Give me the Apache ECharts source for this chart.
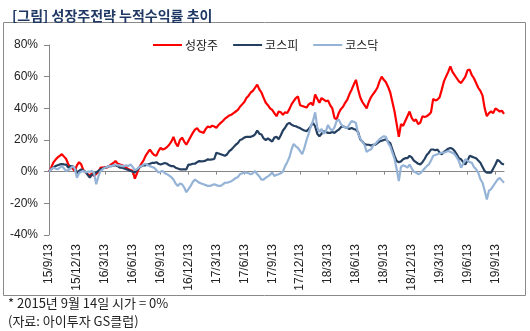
<!DOCTYPE html>
<html><head><meta charset="utf-8">
<script src="https://cdn.jsdelivr.net/npm/echarts@6/dist/echarts.min.js"></script>
<style>html,body{margin:0;padding:0;background:#fff}#c{width:530px;height:331px}</style>
</head><body><div id="c"></div>
<script>
// Weekly samples starting 2015-09-14 (index = weeks since start)
const seriesNames = ['성장주', '코스피', '코스닥'];
const xTickLabels = ['15/9/13','15/12/13','16/3/13','16/6/13','16/9/13','16/12/13','17/3/13','17/6/13','17/9/13','17/12/13','18/3/13','18/6/13','18/9/13','18/12/13','19/3/13','19/6/13','19/9/13'];
const weeksPerTick = 13;
const yTicks = [-40, -20, 0, 20, 40, 60, 80];

const growth = [0,2.5,5.7,7.5,9,10,11,9.5,8,4.6,3,2,0.4,4,6,4.6,1,-0.5,-1.5,-2.5,-1,-2.7,-1.5,0,2.5,2.5,3,2.5,3.5,4.6,5.5,6.7,5,4.6,4,3.5,2.5,1.5,1,0.4,-4.4,-1,2.5,5,7,10,12,14,12,10.5,10,13,15,14,14.5,15.5,17,19,22,18,16,20,21.5,19,17,19.5,22,24.5,26.6,27.5,25.6,25,24.5,27,28.5,28,29,28.5,27.7,29.5,30.8,32,33.5,34.5,35.5,36,37,38,39,41,42.5,44,46.5,48,50,51,53,55,52,50,46.6,43.5,42,40,39,37,35,38,37.5,36,37.5,37,39.5,42.5,44.5,46.5,47.5,42,41.5,41,40.5,42.5,43.5,42,48.7,46,43.5,46.5,45.5,44.5,45,42,40,34,33,37,39.5,41,43.5,45.5,49,51.8,55,58,52,47,44,42,40,44,47,49,50.8,53,57,60,58,56.5,53.5,50,44,38,30,22,30,29,32,35,38,34,32,33,30,31,35,34.5,35,36,37.5,46,45,45.5,47,51.8,57,60,63,66.5,63,61,59,57,56,58,60,64,64.5,61,59,56,53,51,48,40,35,37,38,37,40,39,38,38.5,36.5];

const kospi = [0,1.5,2.5,3.5,4,4.6,4.8,4.6,4.5,2.5,3.5,3.5,2,-0.6,0.5,1.5,0.5,0,-2,-3.8,-2,-1.6,-0.6,0.5,1.5,2,2.5,3,3.5,3.5,4,4,3.5,2.5,2.5,2,1.5,1,0.4,0,-0.6,1,2.5,3.5,4,4,4.5,5,5.5,5.5,6,5,4.5,5,5.5,5,4,3.5,3.5,2.5,2,1.5,1.5,1.5,1.5,4.5,4.5,5,5,6,6.7,6.5,6.7,7,7.8,7.5,7.8,8,12,11.5,11,10.5,10,11,13,14,15.5,17,18,20,20.5,21.5,22,22,22,22.5,23.5,26,24,23.5,21,20,21,20,19,21.5,22,20.5,23,26,27.7,30,30.8,29.7,29,28.7,28,27.5,26.6,26,25.6,27,28.7,30.8,28.7,24,22.4,24,25.6,25,24.5,24.5,25,24.5,25.6,26.5,28,28.7,28,27.6,27,27.6,27,26.5,25,20.5,19,17.5,17,17,16.5,17,17,18,19,19.5,20,20.5,19,18,14,10,6.7,6,6.5,7.8,8.5,8.5,10,9,7,6,5,4.6,6,8,10.5,12,14,14,13.5,14,12,11,12.5,13.5,14.5,15,14.5,13,11,8.5,7.8,6,4.5,7,10,9.5,9,8.5,7,5.6,3,0.4,-0.6,-0.5,-0.6,2,4.5,7.5,6.5,5,4.5];

const kosdaq = [0,1.5,2.5,2,1.5,2.5,3.5,2,0.4,1,2,3.5,2,-3.8,-1,0,0.5,-0.5,0,0,0.5,-1,-8,-3,0.4,1.5,2.5,3,3.5,3.5,4,4.6,4,4,3.5,3.5,4,3.5,4.6,3,1,1.5,3,3.5,4.5,5,4,3.5,3,2.5,1,-0.6,0,0.4,-1,-1.6,-2.5,-3.5,-5,-7.5,-9,-7.5,-8,-10,-13,-11,-9,-6.5,-5,-6,-7,-7.5,-8,-8.5,-9,-9,-8.5,-8,-8.5,-9,-9,-8,-7,-7,-6.5,-6,-5,-4,-3.5,-1.6,-1,-0.6,-0.6,-1,-1.6,-1,0.4,-1.5,-3,-5,-5,-3.8,-3,-2,-0.6,-2.7,-2,-1.6,-1,0,3.5,6,9,14,17.5,16,15,13,11,15,20,24,28.7,32,37.5,28,25,27,24,25.6,29.5,27,26,28,32,33,30,28.7,28,27.6,30,32,31.5,30.8,24,21,19,17,12.5,13.5,14,16.5,17.5,19,20.5,21.5,22.4,22,18,16,12,8,1.5,-6,3,4,3.5,2.5,4.5,2,0,-0.6,-1.6,-1,0.4,2,3.5,4.6,7,10,10.5,11,11.5,12,12,12.5,13,12.5,12,11,9,6.7,2.5,5,7.8,7,6,5.6,3,1.5,-0.6,-4.8,-7,-12,-17.5,-12,-11,-9,-7,-5,-4,-5.5,-7];

const colors = ['#FF0000', '#243F60', '#95B3D7'];
const FONT = '"Liberation Sans", Arial, "Noto Sans CJK KR", sans-serif';
const tickValues = xTickLabels.map((_, i) => i * weeksPerTick);
const lastIndex = growth.length - 1;
const toPairs = arr => arr.map((v, i) => [i, v]);

const chart = echarts.init(document.getElementById('c'), null, {renderer: 'canvas'});
chart.setOption({
  animation: false,
  textStyle: {fontFamily: FONT},
  title: {
    text: '[그림] 성장주전략 누적수익률 추이',
    left: 7, top: 4,
    textStyle: {fontSize: 14, fontWeight: 'bold', color: '#1F3864', fontFamily: '"Noto Sans CJK KR", sans-serif'}
  },
  legend: {
    left: 148, top: 34,
    itemWidth: 29, itemHeight: 2, itemGap: 15,
    icon: 'rect',
    textStyle: {fontSize: 12, color: '#222', fontFamily: '"Noto Sans CJK KR", sans-serif', padding: [0, 0, 0, -2]},
    data: seriesNames
  },
  grid: {left: 49, right: 26, top: 45, bottom: 96},
  xAxis: [{
    type: 'value', min: 0, max: lastIndex, position: 'bottom',
    axisLine: {show: false, onZero: false},
    axisTick: {show: false},
    splitLine: {show: false},
    axisLabel: {
      customValues: tickValues,
      rotate: 90, margin: 9, fontSize: 12, color: '#222', fontFamily: FONT,
      formatter: v => xTickLabels[Math.round(v / weeksPerTick)] || ''
    }
  }, {
    type: 'value', min: 0, max: lastIndex, position: 'bottom',
    axisLine: {show: true, onZero: true, lineStyle: {color: '#868686', width: 1}},
    axisTick: {show: true, customValues: tickValues, length: 3, lineStyle: {color: '#868686'}},
    axisLabel: {show: false},
    splitLine: {show: false}
  }],
  yAxis: {
    type: 'value', min: yTicks[0], max: yTicks[yTicks.length - 1], interval: 20,
    axisLine: {show: true, lineStyle: {color: '#868686', width: 1}},
    axisTick: {show: true, length: 5, lineStyle: {color: '#868686'}},
    splitLine: {show: false},
    axisLabel: {formatter: '{value}%', fontSize: 12, color: '#222', margin: 11, fontFamily: FONT}
  },
  series: [growth, kospi, kosdaq].map((arr, i) => ({
    name: seriesNames[i], type: 'line', data: toPairs(arr),
    xAxisIndex: 1, symbol: 'none', smooth: false,
    lineStyle: {color: colors[i], width: 2.2}, itemStyle: {color: colors[i]}
  })),
  graphic: [
    {type: 'rect', shape: {x: 3.5, y: 22.5, width: 522, height: 273}, style: {fill: 'none', stroke: '#8a8a8a', lineWidth: 1}, silent: true},
    {type: 'text', left: 8, top: 297, style: {text: '* 2015년 9월 14일 시가 = 0%', font: '13px "Noto Sans CJK KR", sans-serif', fill: '#222'}},
    {type: 'text', left: 8, top: 315, style: {text: '(자료: 아이투자 GS클럽)', font: '13px "Noto Sans CJK KR", sans-serif', fill: '#222'}}
  ]
});
</script></body></html>
